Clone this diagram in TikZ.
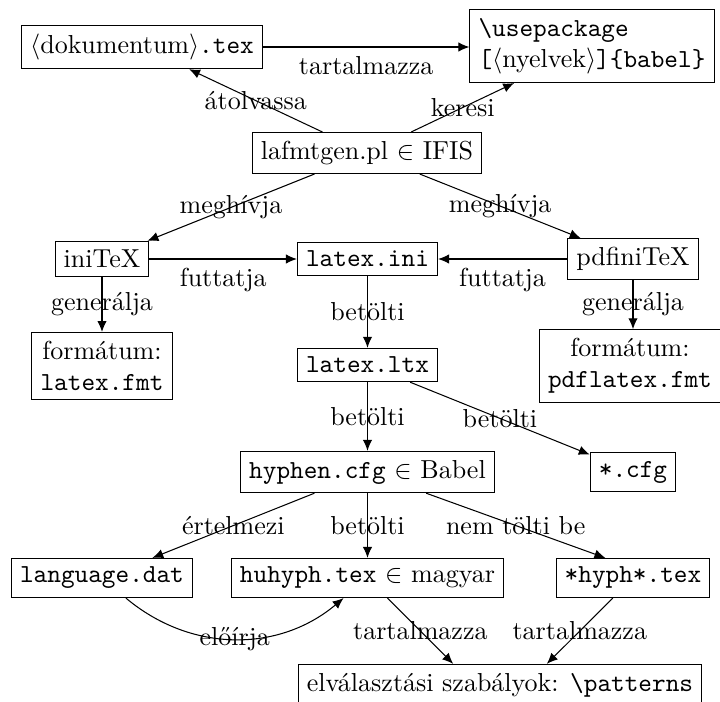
\documentclass[tikz,border=0pt]{standalone}
\usepackage{fontspec}
\usetikzlibrary{arrows.meta}
\begin{document}
\begin{tikzpicture}[x=0.3846pt,y=-0.3846pt,>={Latex[length=4.2pt,width=3.6pt]},
  box/.style={draw, rectangle, inner sep=0.333em, line width=0.4pt},
  every path/.style={line width=0.4pt}]
\useasboundingbox (0,0) rectangle (720,702);
% nodes
\node[box] (doc) at (142,47) {$\langle$dokumentum$\rangle$\texttt{.tex}};
\node[box, align=left] (babel) at (592,46) {\texttt{\textbackslash usepackage}\\\texttt{[}$\langle$nyelvek$\rangle$\texttt{]\{babel\}}};
\node[box] (laf) at (367,153) {lafmtgen.pl $\in$ IFIS};
\node[box] (ini) at (102,259) {iniTeX};
\node[box] (lini) at (367.5,259) {\texttt{latex.ini}};
\node[box] (pdfini) at (633,259) {pdfiniTeX};
\node[box, align=center] (fmt) at (102,366) {formátum:\\\texttt{latex.fmt}};
\node[box, align=center] (pdffmt) at (630,366) {formátum:\\\texttt{pdflatex.fmt}};
\node[box] (ltx) at (367.5,365) {\texttt{latex.ltx}};
\node[box] (hyph) at (367.5,472) {\texttt{hyphen.cfg} $\in$ Babel};
\node[box] (cfg) at (633,472) {\texttt{*.cfg}};
\node[box] (lang) at (102,578) {\texttt{language.dat}};
\node[box] (hu) at (367.5,578) {\texttt{huhyph.tex} $\in$ magyar};
\node[box] (other) at (633,578) {\texttt{*hyph*.tex}};
\node[box] (pat) at (500,685) {elválasztási szabályok: \texttt{\textbackslash patterns}};
% edges
\draw[->] (doc) -- node[below]{tartalmazza} (doc -| babel.west);
\draw[->] (laf) -- node{átolvassa} (doc);
\draw[->] (laf) -- node{keresi} (babel);
\draw[->] (laf) -- node{meghívja} (ini);
\draw[->] (laf) -- node{meghívja} (pdfini);
\draw[->] (ini) -- node[below]{futtatja} (lini);
\draw[->] (pdfini) -- node[below]{futtatja} (lini);
\draw[->] (ini) -- node{generálja} (fmt);
\draw[->] (pdfini) -- node{generálja} (pdfini |- pdffmt.north);
\draw[->] (lini) -- node{betölti} (ltx);
\draw[->] (ltx) -- node{betölti} (hyph);
\draw[->] (ltx) -- node{betölti} (cfg);
\draw[->] (hyph) -- node{értelmezi} (lang);
\draw[->] (hyph) -- node{betölti} (hu);
\draw[->] (hyph) -- node{nem tölti be} (other.144);
\draw[->] (hu) -- node{tartalmazza} ([xshift=-18pt]pat.north);
\draw[->] (other) -- node{tartalmazza} ([xshift=18pt]pat.north);
\draw[->] (lang) to[bend right=40] node{előírja} (hu);
\end{tikzpicture}
\end{document}
